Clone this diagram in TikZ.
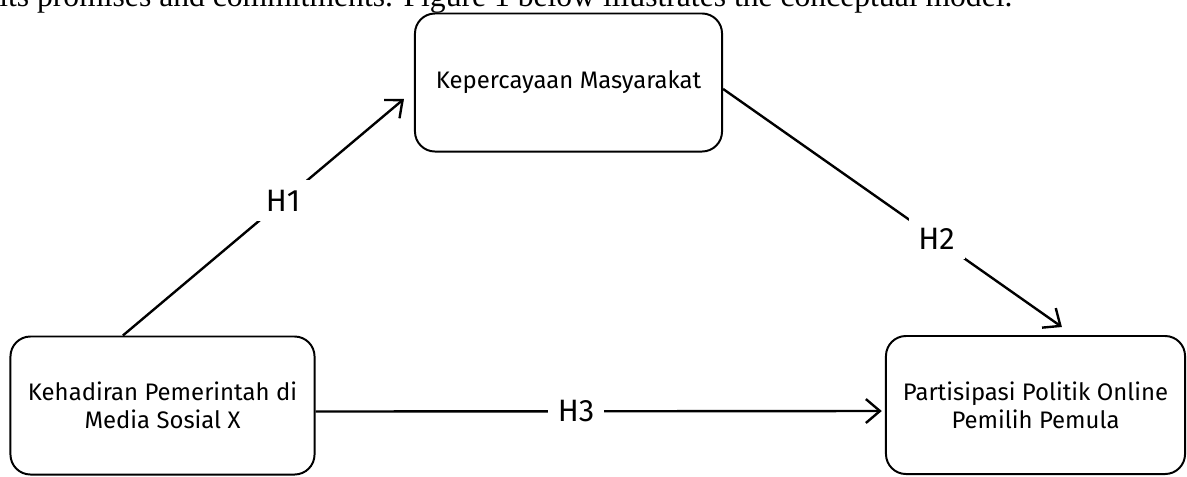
\documentclass[tikz,border=0pt]{standalone}
\usepackage{fontspec}
\setmainfont{Liberation Serif}
\newfontfamily\sketchfont{Fira Sans}
\usetikzlibrary{positioning,arrows.meta}

\begin{document}
\begin{tikzpicture}[x=0.025cm,y=-0.025cm,
	varbox/.style={draw=black,line width=1.4pt,rounded corners=0.5cm,minimum width=7.6cm,minimum height=3.45cm,align=center,font=\sketchfont\fontsize{17}{20}\selectfont},
	hyplink/.style={line width=1.7pt,-{Straight Barb[length=10pt,width=17pt]}},
	hyplabel/.style={fill=white,inner sep=7pt,font=\sketchfont\fontsize{22}{22}\selectfont}]
			\useasboundingbox (0,0) rectangle (1187,476);
			
			% text line of the page above the figure
			\node[anchor=base west,inner sep=0pt,font=\fontsize{22.5}{27}\selectfont] (prevline) at (-1,6) {its promises and commitments. Figure 1 below illustrates the conceptual model.};
			
			\node[varbox,minimum width=7.675cm] (trust) at (568.5,82.5) {Kepercayaan Masyarakat};
			\node[varbox] (presence) at (162.5,405.5) {Kehadiran Pemerintah di\\Media Sosial X};
			\node[varbox,minimum width=7.475cm] (participation) at (1035.5,405) {Partisipasi Politik Online\\Pemilih Pemula};
			
			\draw[hyplink] ([xshift=-0.99cm]presence.north) -- ([xshift=-0.25cm,yshift=-0.41cm]trust.west) node[hyplabel,pos=0.57] (h1) {H1};
			\draw[hyplink] ([yshift=-0.16cm]trust.east) -- ([xshift=0.66cm,yshift=0.2cm]participation.north) node[hyplabel,pos=0.63] (h2) {H2};
			\draw[hyplink] ([yshift=-0.15cm]presence.east) -- ([xshift=-0.08cm,yshift=-0.15cm]participation.west) node[hyplabel,pos=0.46] (h3) {H3};
		\end{tikzpicture}
\end{document}
